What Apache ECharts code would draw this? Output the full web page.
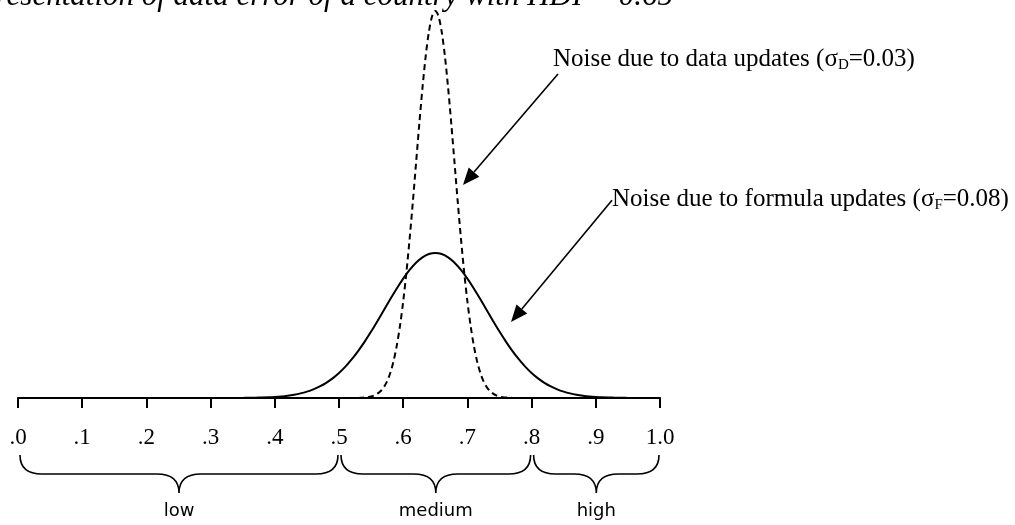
<!DOCTYPE html>
<html>
<head>
<meta charset="utf-8">
<script src="https://cdn.jsdelivr.net/npm/echarts@6/dist/echarts.min.js"></script>
<style>
html,body{margin:0;padding:0;background:#fff;}
#c{width:1015px;height:525px;}
</style>
</head>
<body>
<div id="c"></div>
<script>
// ---- data ----
const titleText = 'Representation of data error of a country with HDI = 0.65';
const tickLabels = ['.0', '.1', '.2', '.3', '.4', '.5', '.6', '.7', '.8', '.9', '1.0'];

const solidX = [0, 0.30,
  0.35, 0.36, 0.37, 0.38, 0.39, 0.40, 0.41, 0.42, 0.43, 0.44,
  0.45, 0.46, 0.47, 0.48, 0.49, 0.50, 0.51, 0.52, 0.53, 0.54,
  0.55, 0.56, 0.57, 0.58, 0.59, 0.60, 0.61, 0.62, 0.63, 0.64,
  0.65, 0.66, 0.67, 0.68, 0.69, 0.70, 0.71, 0.72, 0.73, 0.74,
  0.75, 0.76, 0.77, 0.78, 0.79, 0.80, 0.81, 0.82, 0.83, 0.84,
  0.85, 0.86, 0.87, 0.88, 0.89, 0.90, 0.91, 0.92, 0.93, 0.94,
  0.95, 1.0];
const solidY = [0, 0,
  0.004, 0.007, 0.011, 0.017, 0.025, 0.038, 0.055, 0.080, 0.114, 0.159,
  0.219, 0.297, 0.397, 0.522, 0.675, 0.860, 1.079, 1.332, 1.619, 1.938,
  2.283, 2.649, 3.025, 3.401, 3.764, 4.102, 4.401, 4.648, 4.833, 4.948,
  4.987, 4.948, 4.833, 4.648, 4.401, 4.102, 3.764, 3.401, 3.025, 2.649,
  2.283, 1.938, 1.619, 1.332, 1.079, 0.860, 0.675, 0.522, 0.397, 0.297,
  0.219, 0.159, 0.114, 0.080, 0.055, 0.038, 0.025, 0.017, 0.011, 0.007,
  0.004, 0];

const dashedX = [0, 0.50,
  0.530, 0.535, 0.540, 0.545, 0.550, 0.555, 0.560, 0.565, 0.570, 0.575,
  0.580, 0.585, 0.590, 0.595, 0.600, 0.605, 0.610, 0.615, 0.620, 0.625,
  0.630, 0.635, 0.640, 0.645, 0.650, 0.655, 0.660, 0.665, 0.670, 0.675,
  0.680, 0.685, 0.690, 0.695, 0.700, 0.705, 0.710, 0.715, 0.720, 0.725,
  0.730, 0.735, 0.740, 0.745, 0.750, 0.755, 0.760, 0.765, 0.770,
  0.80, 1.0];
const dashedY = [0, 0,
  0.004, 0.009, 0.016, 0.029, 0.05, 0.09, 0.15, 0.24, 0.38, 0.58,
  0.87, 1.27, 1.80, 2.48, 3.32, 4.32, 5.47, 6.73, 8.07, 9.40,
  10.65, 11.74, 12.58, 13.12, 13.30, 13.12, 12.58, 11.74, 10.65, 9.40,
  8.07, 6.73, 5.47, 4.32, 3.32, 2.48, 1.80, 1.27, 0.87, 0.58,
  0.38, 0.24, 0.15, 0.09, 0.05, 0.029, 0.016, 0.009, 0.004,
  0, 0];

const bandRanges = [[0, 0.5], [0.5, 0.8], [0.8, 1.0]];
const bandNames = ['low', 'medium', 'high'];

const annoParts = [
  ['Noise due to data updates (σ', 'D', '=0.03)'],
  ['Noise due to formula updates (σ', 'F', '=0.08)']
];
// [textX, textY, arrowFromX, arrowFromY, arrowToX, arrowToY] in data units
const annoGeom = [
  [0.8333, 11.68, 0.8411, 11.135, 0.6931, 7.32],
  [0.9252, 6.87, 0.9252, 6.80, 0.7679, 2.61]
];

// ---- chart ----
const chart = echarts.init(document.getElementById('c'), null, {renderer: 'canvas'});
const serif = '"Liberation Serif", "Times New Roman", serif';

function zip(xs, ys) { return xs.map((x, i) => [x, ys[i]]); }

function braceItem(params, api) {
  const a = api.coord([api.value(0), 0]);
  const b = api.coord([api.value(1), 0]);
  const base = a[1];
  const x1 = a[0] + 2, x2 = b[0] - 1;
  const top = base + 57, h = base + 76, tip = base + 95;
  const m = (x1 + x2) / 2;
  const r = 22;
  const d = 'M' + x1 + ' ' + top + ' Q' + x1 + ' ' + h + ' ' + (x1 + r) + ' ' + h +
    ' L' + (m - r) + ' ' + h + ' Q' + m + ' ' + h + ' ' + m + ' ' + tip +
    ' Q' + m + ' ' + h + ' ' + (m + r) + ' ' + h +
    ' L' + (x2 - r) + ' ' + h + ' Q' + x2 + ' ' + h + ' ' + x2 + ' ' + top;
  return {
    type: 'group',
    children: [
      {type: 'path', shape: {pathData: d}, style: {fill: 'none', stroke: '#000', lineWidth: 1.6}},
      {type: 'text', x: m, y: base + 113,
        style: {text: bandNames[params.dataIndex], fill: '#000',
          font: '18px "DejaVu Sans", sans-serif', align: 'center', verticalAlign: 'middle'}}
    ]
  };
}

function annoItem(params, api) {
  const i = params.dataIndex;
  const t = api.coord([api.value(0), api.value(1)]);
  const p0 = api.coord([api.value(2), api.value(3)]);
  const p1 = api.coord([api.value(4), api.value(5)]);
  const dx = p1[0] - p0[0], dy = p1[1] - p0[1];
  const len = Math.sqrt(dx * dx + dy * dy);
  const ux = dx / len, uy = dy / len;
  const hl = 17, hw = 7;
  const bx = p1[0] - ux * hl, by = p1[1] - uy * hl;
  const parts = annoParts[i];
  return {
    type: 'group',
    children: [
      {type: 'line', shape: {x1: p0[0], y1: p0[1], x2: bx, y2: by},
        style: {stroke: '#000', lineWidth: 1.6}},
      {type: 'polygon', shape: {points: [[p1[0], p1[1]], [bx - uy * hw, by + ux * hw], [bx + uy * hw, by - ux * hw]]},
        style: {fill: '#000'}},
      {type: 'text', x: t[0], y: t[1],
        style: {
          text: '{a|' + parts[0] + '}{s|' + parts[1] + '}{a|' + parts[2] + '}',
          align: 'left', verticalAlign: 'middle',
          rich: {
            a: {fontFamily: serif, fontSize: 25, color: '#000', lineHeight: 28, verticalAlign: 'bottom'},
            s: {fontFamily: serif, fontSize: 15, color: '#000', lineHeight: 19, verticalAlign: 'bottom'}
          }
        }}
    ]
  };
}

const option = {
  animation: false,
  backgroundColor: '#fff',
  grid: {left: 18, right: 355, top: 11, bottom: 127, containLabel: false},
  xAxis: {
    type: 'value', min: 0, max: 1, interval: 0.1,
    splitLine: {show: false},
    axisLine: {show: true, onZero: false, lineStyle: {color: '#000', width: 2}},
    axisTick: {show: true, length: 10, lineStyle: {color: '#000', width: 2}},
    axisLabel: {
      margin: 28, color: '#000', fontFamily: serif, fontSize: 23,
      formatter: function (v) { return tickLabels[Math.round(v * 10)]; }
    }
  },
  yAxis: {type: 'value', min: 0, max: 13.3, show: false, splitLine: {show: false}},
  graphic: [{
    type: 'text', x: 673, y: -3,
    style: {text: titleText, fill: '#000', font: 'italic 31px ' + serif, align: 'right', verticalAlign: 'middle'}
  }],
  series: [
    {type: 'line', data: zip(solidX, solidY), showSymbol: false, smooth: 0.3,
      lineStyle: {color: '#000', width: 2}, z: 3},
    {type: 'line', data: zip(dashedX, dashedY), showSymbol: false, smooth: 0.3,
      lineStyle: {color: '#000', width: 2, type: [6, 4]}, z: 3},
    {type: 'custom', data: bandRanges, renderItem: braceItem, clip: false, silent: true,
      encode: {x: [0, 1]}, z: 2},
    {type: 'custom', data: annoGeom, renderItem: annoItem, clip: false, silent: true,
      encode: {x: 0, y: 1}, z: 4}
  ]
};
chart.setOption(option);
</script>
</body>
</html>
